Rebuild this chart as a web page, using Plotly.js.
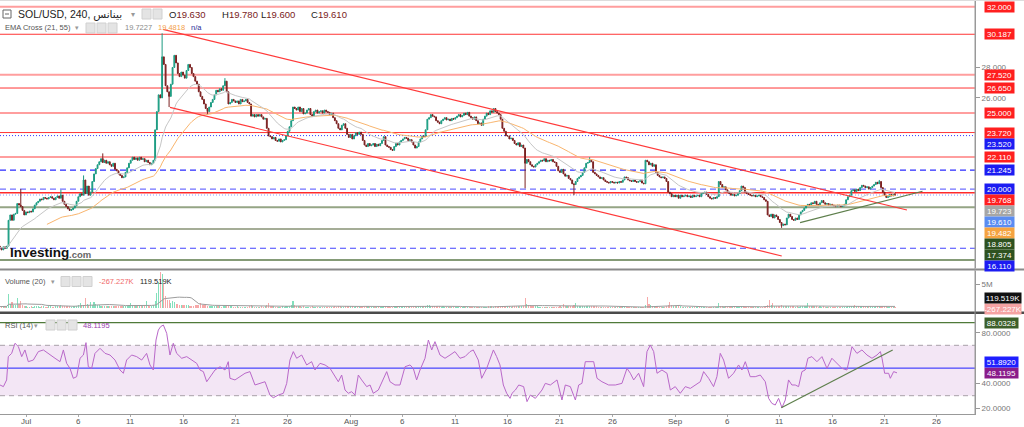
<!DOCTYPE html>
<html><head><meta charset="utf-8">
<script src="https://cdn.plot.ly/plotly-3.0.1.min.js"></script>
<style>html,body{margin:0;padding:0;background:#fff;}#chart{width:1024px;height:427px;}</style>
</head><body><div id="chart"></div>
<script>
// ---------------- DATA ----------------
const startTime = '2023-06-28T12:00:00Z';   // first 4h candle
const stepHours = 4;
const firstOpen = 16.25;
// 4h closes, one row per day (Jun 28 has 3, Sep 22 has 1)
const closes = [
16.15,16.0,16.2,
16.1,16.25,17.95,18.3,17.95,18.35,
18.4,19.05,18.95,18.85,18.6,18.3,
18.5,18.45,18.55,18.5,18.7,18.95,
19.1,19.2,19.35,19.3,19.45,19.4,
19.35,19.45,19.5,19.4,19.3,19.45,
19.55,19.4,19.6,19.2,19.0,18.85,
18.7,18.6,18.65,18.75,18.9,19.2,
19.5,19.7,19.6,20.6,19.7,20.2,
19.6,19.8,20.5,21.0,21.35,21.6,
21.8,22.0,21.75,21.9,21.7,21.8,
21.6,21.5,21.7,21.3,21.2,21.0,
20.9,20.75,20.8,21.1,21.4,21.7,
21.9,22.1,21.95,22.05,21.9,22.1,
21.95,22.0,21.8,21.9,21.75,21.6,
21.7,21.9,23.9,25.1,26.2,26.0,
28.7,28.2,26.8,26.4,26.1,26.9,
28.0,28.8,28.3,27.6,27.4,27.7,
27.5,27.3,27.8,28.2,28.0,27.6,
27.4,27.1,26.9,26.4,26.1,25.9,
25.6,25.3,25.1,25.4,25.7,25.9,
26.2,26.5,26.4,26.6,26.5,26.8,
27.1,26.4,25.6,25.7,25.9,25.8,
25.7,25.8,25.6,25.9,25.75,25.8,
25.9,25.7,25.6,24.8,24.9,24.75,
24.9,24.8,24.9,24.75,24.6,24.65,
24.0,23.5,23.45,23.3,23.4,23.2,
23.15,23.3,23.1,23.2,23.25,23.5,
23.8,24.1,24.5,25.4,25.3,25.2,
25.4,25.1,25.3,24.95,25.0,25.2,
25.3,24.9,24.8,25.1,25.2,25.0,
25.1,25.15,25.0,25.2,25.1,25.05,
24.9,25.0,24.7,24.5,24.3,24.0,
23.9,24.2,24.3,24.0,23.6,23.4,
23.6,23.3,23.5,23.7,23.6,23.75,
23.6,23.2,22.9,22.8,23.0,22.85,
22.9,23.0,22.8,22.95,22.85,23.0,
23.2,23.45,22.9,22.8,22.75,22.6,
22.55,22.8,23.0,22.9,23.1,23.2,
23.3,23.4,23.35,23.2,23.25,23.1,
22.9,22.7,22.8,23.1,23.3,23.5,
23.45,23.9,24.6,24.7,24.9,24.8,
24.75,24.5,24.4,24.3,24.5,24.6,
24.7,24.55,24.6,24.5,24.65,24.6,
24.7,24.8,24.9,24.75,24.85,25.0,
24.9,25.05,24.8,24.7,24.6,24.75,
24.5,24.3,24.35,24.2,24.6,24.8,
25.0,24.9,25.15,25.05,25.3,25.1,
25.0,24.9,24.6,24.0,23.8,23.5,
23.5,23.3,23.35,23.2,23.0,22.9,
23.05,22.8,22.9,22.7,21.7,21.95,
21.8,21.6,21.5,21.45,21.6,21.7,
21.8,21.9,21.85,22.0,21.8,21.9,
21.85,21.95,21.8,21.75,21.5,21.2,
21.1,21.3,21.0,20.85,20.9,20.7,
20.6,20.35,20.3,20.5,20.7,20.8,
20.9,21.1,21.4,21.7,21.75,21.9,
21.8,21.1,21.0,20.9,20.8,20.7,
20.75,20.6,20.5,20.45,20.4,20.5,
20.45,20.4,20.45,20.4,20.5,20.45,
20.6,20.8,20.75,20.6,20.55,20.5,
20.6,20.5,20.45,20.5,20.6,20.4,
20.35,21.9,21.8,21.6,21.7,21.5,
21.6,21.1,20.9,20.8,20.75,20.8,
20.7,20.5,19.8,19.7,19.5,19.6,
19.5,19.6,19.4,19.6,19.5,19.55,
19.6,19.5,19.55,19.45,19.6,19.5,
19.55,19.6,19.5,19.7,19.75,19.8,
19.65,19.5,19.4,19.35,19.45,19.4,
19.5,20.5,20.3,20.1,20.15,19.95,
19.8,19.7,19.6,19.65,19.55,19.6,
19.7,19.9,20.2,20.1,19.8,19.7,
19.65,19.6,19.55,19.6,19.5,19.55,
19.6,19.5,19.45,19.3,19.2,18.3,
18.2,18.35,18.1,18.3,18.2,18.0,
17.8,17.6,17.7,17.65,18.1,18.35,
18.2,18.0,17.95,18.1,18.0,18.3,
18.5,18.6,18.75,18.9,19.0,18.95,
19.1,19.05,19.2,19.0,18.95,19.1,
19.25,19.1,19.0,19.05,18.95,19.0,
18.95,18.9,18.85,18.95,18.9,18.85,
18.9,19.0,19.3,19.5,19.6,19.9,
19.95,19.85,20.0,19.9,20.1,20.25,
20.2,20.1,20.15,20.0,20.1,20.2,
20.3,20.45,20.35,20.5,20.1,19.8,
19.6,19.45,19.5,19.65,19.55,19.63,
19.61
];
// notable wicks
const wickTimes = ['2023-06-30 12:00','2023-07-04 08:00','2023-07-06 12:00','2023-07-08 08:00','2023-07-14 00:00','2023-07-14 16:00','2023-07-18 08:00','2023-07-20 00:00','2023-08-17 16:00','2023-08-22 08:00','2023-08-23 20:00','2023-09-11 04:00','2023-09-20 12:00','2023-09-22 00:00'];
const wickHighs = [20.0,19.95,20.9,22.35,30.25,null,null,27.3,null,null,22.1,null,20.6,19.78];
const wickLows  = [null,null,null,null,null,25.4,24.9,null,20.05,19.6,null,17.45,null,19.6];
// 4h volume in units of 10K
const volumeTenK = [
30,25,35,
40,45,300,90,130,60,
70,205,80,157,60,45,
35,30,25,40,30,35,
40,35,30,45,35,30,
30,35,40,30,25,35,
40,45,55,35,40,50,
45,35,30,40,35,50,
60,100,55,70,205,80,
70,135,60,135,80,60,
55,50,45,40,50,35,
40,35,45,50,40,35,
45,50,40,35,50,55,
100,60,45,40,50,45,
40,45,50,157,60,50,
45,60,150,320,560,760,
730,520,250,180,160,100,
150,120,90,80,70,60,
55,60,70,65,50,45,
50,55,60,65,110,60,
55,60,50,45,40,35,
40,45,35,40,30,45,
60,70,55,40,35,30,
30,35,25,30,25,30,
25,30,35,60,40,30,
25,30,25,35,30,40,
55,100,45,40,35,30,
30,25,30,35,30,35,
40,50,60,157,70,45,
40,35,30,35,30,25,
25,30,35,30,25,20,
20,15,20,25,20,15,
20,25,30,35,30,40,
35,30,30,40,45,35,
40,35,30,35,30,25,
30,45,50,40,35,30,
25,30,25,30,25,20,
25,35,40,30,35,30,
25,20,15,20,15,20,
15,20,15,20,25,20,
30,35,30,35,40,45,
40,50,70,55,45,40,
40,35,40,35,30,35,
25,30,25,20,25,20,
20,25,30,25,20,25,
15,20,15,20,15,15,
15,20,25,20,25,30,
30,35,40,35,30,35,
30,35,40,50,45,40,
40,35,30,35,45,40,
35,40,45,50,205,90,
70,60,50,45,40,35,
30,25,20,25,20,20,
20,15,20,20,25,30,
35,30,78,40,35,40,
45,50,55,100,45,40,
35,40,45,50,45,40,
35,45,40,35,30,30,
30,25,30,25,20,25,
15,15,20,15,15,20,
15,20,25,20,15,20,
20,25,30,25,25,30,
30,60,226,80,60,45,
40,35,35,30,30,25,
30,35,60,120,55,40,
35,40,45,35,30,30,
20,15,20,15,20,15,
15,20,15,20,25,20,
20,25,30,25,20,25,
30,110,50,35,30,35,
30,25,30,35,30,25,
25,30,35,40,30,25,
25,30,25,20,25,20,
15,20,15,20,25,60,
180,60,100,50,40,45,
50,55,45,50,45,40,
35,40,35,30,35,30,
35,40,45,50,100,40,
40,35,40,35,30,35,
30,35,30,25,30,25,
20,15,20,15,20,15,
20,25,30,35,40,45,
50,70,45,40,35,40,
35,30,35,40,35,30,
30,35,40,45,50,45,
40,35,30,25,20,25,
12
];
// RSI(14) readings: day offset from 2023-07-01 00:00, value
const rsiDays = [-2.48,-2.16,-1.85,-1.69,-1.37,-1.05,-0.73,-0.41,-0.10,0.22,0.70,1.18,1.66,2.29,2.77,3.25,3.57,3.88,4.20,4.52,4.84,5.16,5.48,5.73,5.95,6.27,6.59,7.07,7.55,8.02,8.50,8.98,9.30,9.61,10.09,10.57,11.05,11.52,11.84,12.16,12.42,12.64,12.86,13.12,13.44,13.75,14.07,14.39,14.87,15.35,15.82,16.30,16.62,16.94,17.26,17.57,18.05,18.53,19.01,19.32,19.48,19.96,20.44,20.92,21.39,21.87,22.35,22.83,23.30,23.62,24.10,24.58,24.90,25.21,25.53,25.85,26.33,26.81,27.28,27.60,28.08,28.56,29.04,29.51,29.83,30.15,30.47,30.79,31.10,31.42,31.74,32.06,32.54,32.86,33.17,33.65,33.97,34.45,34.77,35.24,35.72,36.20,36.68,36.99,37.31,37.63,38.11,38.43,38.75,39.06,39.54,40.02,40.50,40.97,41.45,41.93,42.41,42.72,43.20,43.52,44.00,44.32,44.64,44.95,45.27,45.59,45.91,46.23,46.42,46.74,47.06,47.53,47.85,48.17,48.65,49.28,49.60,50.08,50.72,51.19,51.51,51.99,52.47,52.79,53.10,53.42,53.90,54.22,54.54,55.01,55.65,56.29,56.92,57.40,57.72,58.04,58.51,58.99,59.31,59.63,59.95,60.27,60.74,61.22,61.54,62.01,62.49,62.97,63.45,63.92,64.40,64.72,65.20,65.67,65.99,66.31,66.63,67.10,67.58,68.06,68.38,68.70,69.17,69.65,70.13,70.61,70.93,71.24,71.56,71.88,72.20,72.52,72.83,73.15,73.47,73.79,74.11,74.42,74.68,75.06,75.54,76.02,76.50,76.97,77.45,77.93,78.41,78.89,79.36,79.84,80.32,80.80,81.28,81.60,81.76,82.01,82.39,82.55,82.87,83.19];
const rsiValues = [38.5,37.2,42.5,61,63.6,71.6,69,61,66.3,57,58.3,65,66.3,62.3,59.7,57,66.3,55.7,51.7,43.8,45.1,59.7,62.3,72.1,53,51.7,63.6,67.6,63.6,62.3,58.3,50.4,47.8,58.3,62.3,61,58.3,63.6,54.4,50.4,74.2,82.1,84.8,86.1,79.5,62.3,71.6,63.6,59.7,61,58.3,55.7,50.4,49.1,41.1,45.1,50.4,53,50.4,57,43.8,42.5,45.1,47.8,49.1,38.5,39.8,41.1,30.5,28.4,30.5,31.9,39.8,58.3,65,59.7,62.3,54.4,57,50.4,55.7,54.4,51.7,45.1,41.1,46.4,34.5,31.9,33.2,30.5,46.4,42.5,37.2,38.5,31.9,34.5,39.8,49.1,41.1,38.5,38.5,53,54.4,51.7,42.5,50.4,59.7,74.2,66.3,72.9,62.3,59.7,62.3,65,59.7,61,65,66.3,58.3,43.8,51.7,58.3,66.3,61,54.4,38.5,31.9,27.9,31.9,34.5,38.5,37.2,25.3,30.5,27.9,34.5,39.8,38.5,42.5,26.6,38.5,37.2,26.6,38.5,39.8,57,57,57,43.8,41.1,38.5,38.5,39.8,51.7,47.8,42.5,47.8,37.2,65,70.2,65,47.8,50.4,47.8,34.5,37.2,31.9,37.2,35.8,38.5,41.1,49.1,43.8,37.2,45.1,63.6,58.3,43.8,47.8,54.4,50.4,57,45.1,45.1,46.4,41.1,27.9,23.9,22.6,27.9,20.5,26.6,42.5,38.5,38.5,37.2,49.1,50.4,59.7,61,57,61,51.7,59.7,55.7,51.7,50.4,68.9,63.6,66.3,62.3,59.7,62.3,65,59.7,47.8,47.8,43.8,49.1,48.1195];
// horizontal price levels
const levelValues = [32.000,30.187,27.520,26.650,25.000,23.720,23.520,22.110,21.245,20.000,19.768,19.610,18.805,17.374,16.110,15.33];
// channel and trend lines: [time0, price0, time1, price1]
const channelUpper = ['2023-07-14 02:00',30.51,'2023-09-23 03:20',18.625];
const channelLower = ['2023-07-14 18:00',25.38,'2023-09-11 04:20',15.6];
const supportTrend = ['2023-09-12 22:20',17.79,'2023-09-24 15:00',19.86];
const rsiTrend = ['2023-09-11 03:20',20.5,'2023-09-21 18:40',66.3];
const rsiLevels = {upper:70, lower:30, mid:51.892, top:88.0328};
const emaLast = [19.7227, 19.4818];
const lastPrice = 19.610;
const volLast = 119519, volOther = -267227;
const priceTicks = [26,28], rsiTicks = [20,40,80], volTicks = [5e6];
const tickDates = ['2023-07-01','2023-07-06','2023-07-11','2023-07-16','2023-07-21','2023-07-26','2023-08-01','2023-08-06','2023-08-11','2023-08-16','2023-08-21','2023-08-26','2023-09-01','2023-09-06','2023-09-11','2023-09-16','2023-09-21','2023-09-26'];
const tickLabels = ['Jul','6','11','16','21','26','Aug','6','11','16','21','26','Sep','6','11','16','21','26'];

// ---------------- BUILD ----------------
const W=1024,H=427, FONT='Liberation Sans, Arial, DejaVu Sans, sans-serif';
const fmt = d => d.toISOString().slice(0,16).replace('T',' ');
const t0 = Date.parse(startTime);
const times = closes.map((_,i)=>fmt(new Date(t0+i*stepHours*3600e3)));
const opens = closes.map((c,i)=> i===0 ? firstOpen : closes[i-1]);
const highs = closes.map((c,i)=>Math.max(c,opens[i]));
const lows  = closes.map((c,i)=>Math.min(c,opens[i]));
wickTimes.forEach((t,k)=>{const i=times.indexOf(t); if(i<0)return;
  if(wickHighs[k]!=null) highs[i]=Math.max(highs[i],wickHighs[k]);
  if(wickLows[k]!=null) lows[i]=Math.min(lows[i],wickLows[k]);});
function ema(a,n){const k=2/(n+1);let e=a[0];return a.map((v,i)=>(e=i?k*v+(1-k)*e:v));}
const ema21=ema(closes,21), ema55=ema(closes,55).map((v,i)=>i<27?null:v);
const vols = volumeTenK.map(v=>v*1e4);
const volMA = vols.map((v,i)=>{const s=vols.slice(Math.max(0,i-19),i+1);return s.reduce((a,b)=>a+b,0)/s.length;});
const volColors = closes.map((c,i)=> c>=opens[i] ? 'rgba(90,214,165,0.75)' : 'rgba(244,140,140,0.75)');
const jul1 = Date.UTC(2023,6,1);
const rsiTimes = rsiDays.map(d=>fmt(new Date(jul1+d*86400e3)));

// pixel layout
const XR = 975;
const P = {top:0,bot:268}, V={top:271,bot:312}, R={top:314,bot:414};
const dom = p => [1-p.bot/H, 1-p.top/H];
const priceRange=[14.81,32.44], volRange=[-0.85e6,7.87e6], rsiRange=[15.48,94.84];
const px = (v,p,r)=> p.top + (r[1]-v)/(r[1]-r[0])*(p.bot-p.top);
const xp = x=>x/W, yp = y=>1-y/H;

const traces = [
 {type:'bar',x:times,y:vols,xaxis:'x',yaxis:'y2',marker:{color:volColors,line:{width:0}},width:4*3600e3*0.65,hoverinfo:'skip'},
 {type:'scatter',mode:'lines',x:times,y:volMA,xaxis:'x',yaxis:'y2',line:{color:'#9c9c9c',width:1},hoverinfo:'skip'},
 {type:'scatter',mode:'lines',x:times,y:ema55,xaxis:'x',yaxis:'y',line:{color:'#f9b56e',width:1},hoverinfo:'skip'},
 {type:'scatter',mode:'lines',x:times,y:ema21,xaxis:'x',yaxis:'y',line:{color:'#c6c6c6',width:1},hoverinfo:'skip'},
 {type:'candlestick',x:times,open:opens,high:highs,low:lows,close:closes,xaxis:'x',yaxis:'y',
  increasing:{line:{color:'#1b9a80',width:1},fillcolor:'#2fc09f'},
  decreasing:{line:{color:'#7a2020',width:1},fillcolor:'#a23a3a'},whiskerwidth:0,hoverinfo:'skip'},
 {type:'scatter',mode:'lines',x:rsiTimes,y:rsiValues,xaxis:'x',yaxis:'y3',line:{color:'#b968c9',width:1},hoverinfo:'skip'}
];

const shapes=[];
const levelStyles = [
 ['#ff9e9e',2,'solid'],['#ff3535',1,'solid'],['#ff9e9e',2,'solid'],['#ff3535',1,'solid'],['#ff9e9e',2,'solid'],['#ff3535',1,'solid'],
 ['#3535ff',1,'1px,2px'],['#ff9e9e',2,'solid'],['#2a2aff',1.2,'6px,4px'],['#7070ff',1.2,'6px,4px'],['#ff2a2a',1.5,'solid'],
 ['#8c9cff',1,'1px,2px'],['#95a585',2,'solid'],['#a5ad97',2,'solid'],['#4444ff',1.2,'6px,4px'],['#5c7a4a',1.5,'solid']];
levelValues.forEach((v,i)=>{const s=levelStyles[i];
  shapes.push({type:'line',xref:'x domain',yref:'y',x0:0,x1:1,y0:v,y1:v,line:{color:s[0],width:s[1],dash:s[2]},layer:'below'});});
[[channelUpper,'#ff3a3a','y'],[channelLower,'#ff3a3a','y'],[supportTrend,'#5e7f4c','y'],[rsiTrend,'#5e7f4c','y3']].forEach(([l,c,yr])=>{
  shapes.push({type:'line',xref:'x',yref:yr,x0:l[0],y0:l[1],x1:l[2],y1:l[3],line:{color:c,width:1.2}});});
// RSI band & levels
shapes.push({type:'rect',xref:'x domain',yref:'y3',x0:0,x1:1,y0:rsiLevels.lower,y1:rsiLevels.upper,fillcolor:'#f3e6f5',line:{width:0},layer:'below'});
shapes.push({type:'line',xref:'x domain',yref:'y3',x0:0,x1:1,y0:rsiLevels.upper,y1:rsiLevels.upper,line:{color:'#a8a0a8',width:1,dash:'5px,4px'},layer:'below'});
shapes.push({type:'line',xref:'x domain',yref:'y3',x0:0,x1:1,y0:rsiLevels.lower,y1:rsiLevels.lower,line:{color:'#a8a0a8',width:1,dash:'5px,4px'},layer:'below'});
shapes.push({type:'line',xref:'x domain',yref:'y3',x0:0,x1:1,y0:rsiLevels.mid,y1:rsiLevels.mid,line:{color:'#2020ff',width:1},layer:'below'});
shapes.push({type:'line',xref:'x domain',yref:'y3',x0:0,x1:1,y0:rsiLevels.top,y1:rsiLevels.top,line:{color:'#4f7a3a',width:1.2},layer:'below'});
// panel separators
shapes.push({type:'line',xref:'paper',yref:'paper',x0:0,x1:1,y0:yp(269.5),y1:yp(269.5),line:{color:'#8a8a8a',width:2}});
shapes.push({type:'line',xref:'paper',yref:'paper',x0:0,x1:1,y0:yp(312.8),y1:yp(312.8),line:{color:'#4a4a4a',width:2.5}});
shapes.push({type:'line',xref:'paper',yref:'paper',x0:xp(XR),x1:xp(XR),y0:yp(0),y1:yp(414),line:{color:'#9a9a9a',width:1}});
shapes.push({type:'line',xref:'paper',yref:'paper',x0:0,x1:1,y0:yp(0.5),y1:yp(0.5),line:{color:'#dddddd',width:1}});

// legend icon boxes
function icon(x,y){shapes.push({type:'rect',xref:'paper',yref:'paper',x0:xp(x),x1:xp(x+9),y0:yp(y+5),y1:yp(y-5),fillcolor:'#e4e4e4',line:{color:'#d0d0d0',width:1}});}
[142,153].forEach(x=>icon(x,14)); [86,97,108].forEach(x=>icon(x,28)); [61,72,83].forEach(x=>icon(x,281.5)); [46,57,68].forEach(x=>icon(x,325));
shapes.push({type:'rect',xref:'paper',yref:'paper',x0:xp(3),x1:xp(11),y0:yp(18),y1:yp(10),line:{color:'#666',width:1},fillcolor:'rgba(0,0,0,0)'});
shapes.push({type:'line',xref:'paper',yref:'paper',x0:xp(5),x1:xp(9),y0:yp(14),y1:yp(14),line:{color:'#666',width:1}});

const ann=[];
function txt(x,y,t,size,color,extra){ann.push(Object.assign({xref:'paper',yref:'paper',x:xp(x),y:yp(y),xanchor:'left',yanchor:'middle',text:t,showarrow:false,font:{family:FONT,size:size,color:color}},extra||{}));}
txt(16,14,'SOL/USD, 240, بينانس',10.5,'#222');
txt(129,14,'▾',8,'#999');
const vc='#7a2222';
txt(167,14,'O<span style="color:'+vc+'">19.630</span>',9.5,'#222');
txt(220,14,'H<span style="color:'+vc+'">19.780</span>',9.5,'#222');
txt(259,14,'L<span style="color:'+vc+'">19.600</span>',9.5,'#222');
txt(309,14,'C<span style="color:'+vc+'">19.610</span>',9.5,'#222');
txt(3,28,'EMA Cross (21, 55)',7.5,'#555');
txt(73,28,'▾',7,'#999');
txt(123,28,emaLast[0].toFixed(4),7.5,'#8a8a8a');
txt(156,28,emaLast[1].toFixed(4),7.5,'#f3a04a');
txt(189,28,'n/a',7.5,'#2b2b96');
txt(3,281.5,'Volume (20)',7.5,'#555');
txt(49,281.5,'▾',7,'#999');
txt(97,281.5,(volOther/1000).toFixed(3)+'K',7.5,'#f06a6a');
txt(138,281.5,(volLast/1000).toFixed(3)+'K',7.5,'#222');
txt(3,325,'RSI (14)',7.5,'#555');
txt(32,325,'▾',7,'#999');
txt(81,325,rsiValues[rsiValues.length-1].toFixed(4),7.5,'#9a3cae');
txt(8,252.5,'<b>Investing</b>',13.5,'#111');
txt(67,254,'<b>.com</b>',9.5,'#666');
// date labels under the RSI panel
tickDates.forEach((d,i)=>ann.push({xref:'x',yref:'paper',x:d,y:yp(421),xanchor:'center',yanchor:'middle',text:tickLabels[i],showarrow:false,font:{family:FONT,size:8,color:'#555'}}));

// right-side value labels with collision stacking
function stack(items,dir,gap){
  items.sort((a,b)=> dir>0 ? a.py-b.py : b.py-a.py);
  let prev=null; items.forEach(it=>{ if(prev!==null){ if(dir>0) it.py=Math.max(it.py,prev+gap); else it.py=Math.min(it.py,prev-gap);} prev=it.py; });
  return items;
}
function labelAnn(it){ann.push({xref:'paper',yref:'paper',x:xp(984),y:yp(it.py),xanchor:'left',yanchor:'middle',text:it.t,showarrow:false,
  font:{family:FONT,size:8,color:it.fc||'#fff'},bgcolor:it.bg,width:it.w||29,height:10,borderpad:0,align:'center'});}
const red='#ff1f1f', blue='#1c1cf2', dgreen='#2e5220';
const priceLabels=[
 [32.000,red],[30.187,red],[27.520,red],[26.650,red],[25.000,red],[23.720,red],[23.520,blue],[22.110,red],[21.245,blue],[20.000,blue],
 [19.768,red],[emaLast[0],'#a6a6a6'],[lastPrice,'#5a8cf2'],[emaLast[1],'#f5a340'],[18.805,dgreen],[17.374,dgreen],[16.110,blue]]
 .map(([v,bg])=>({t:v.toFixed(3),bg:bg,py:px(v,P,priceRange)}));
stack(priceLabels,1,11).forEach(labelAnn);
const rsiLabels=[[rsiLevels.top,'#3c5f2a'],[rsiLevels.mid,'#1f1fff'],[rsiValues[rsiValues.length-1],'#8a1c8a']]
 .map(([v,bg])=>({t:v.toFixed(4),bg:bg,w:33,py:px(v,R,rsiRange)}));
stack(rsiLabels,-1,11).forEach(labelAnn);
const volLabels=[[volLast,'#111'],[volOther,'#f5a3a3']].map(([v,bg])=>({t:(v/1000).toFixed(3)+'K',bg:bg,w:36,py:px(v,V,volRange)}));
stack(volLabels,-1,11).forEach(labelAnn);

const axisFont={family:FONT,size:8,color:'#777'};
const layout={
 width:W,height:H,margin:{l:0,r:0,t:0,b:0},paper_bgcolor:'#fff',plot_bgcolor:'#fff',showlegend:false,hovermode:false,dragmode:false,bargap:0,
 xaxis:{domain:[0,XR/W],anchor:'y3',type:'date',range:['2023-06-28 12:24','2023-09-29 15:20'],rangeslider:{visible:false},
   tickvals:tickDates,showticklabels:false,ticks:'outside',ticklen:2,tickcolor:'#aaa',
   showgrid:false,zeroline:false,showline:true,linecolor:'#999',linewidth:1,fixedrange:true},
 yaxis:{domain:dom(P),anchor:'x',side:'right',range:priceRange,showgrid:false,zeroline:false,showline:true,linecolor:'#999',
   tickvals:priceTicks,ticktext:priceTicks.map(v=>v.toFixed(3)),
   ticks:'outside',ticklen:4,tickcolor:'#999',tickfont:axisFont,fixedrange:true},
 yaxis2:{domain:dom(V),anchor:'x',side:'right',range:volRange,showgrid:false,zeroline:false,showline:true,linecolor:'#999',
   tickvals:volTicks,ticktext:['5M'],ticks:'outside',ticklen:4,tickcolor:'#999',tickfont:axisFont,fixedrange:true},
 yaxis3:{domain:dom(R),anchor:'x',side:'right',range:rsiRange,showgrid:false,zeroline:false,showline:true,linecolor:'#999',
   tickvals:rsiTicks,ticktext:rsiTicks.map(v=>v.toFixed(4)),ticks:'outside',ticklen:4,tickcolor:'#999',tickfont:axisFont,fixedrange:true},
 shapes:shapes,annotations:ann
};
Plotly.newPlot('chart',traces,layout,{displayModeBar:false,staticPlot:true});
</script></body></html>
